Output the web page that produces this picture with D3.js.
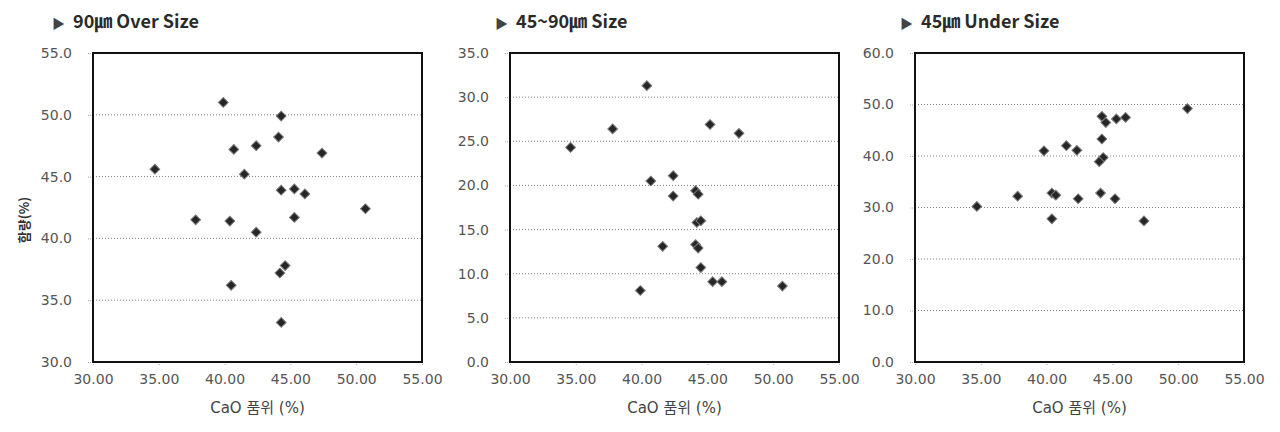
<html>
	<head>
		<meta content="text/html;charset=utf-8" http-equiv="Content-Type">
		<meta content="utf-8" http-equiv="encoding">
		<script src="https://d3js.org/d3.v7.min.js"></script>
		<style>
		body { margin: 0; background: #fff; }
		</style>
	</head>
	<body>
		<div>
			<svg id="chart"></svg>
		</div>
		<script>

	// CaO grade (%) and yield (%) for each size fraction
	var caoOver = [34.7, 39.9, 44.3, 44.1, 40.7, 42.4, 47.4, 41.5, 44.3, 45.3, 46.1, 50.7, 37.8, 40.4, 45.3, 42.4, 44.6, 44.2, 40.5, 44.3];
	var yieldOver = [45.6, 51.0, 49.9, 48.2, 47.2, 47.5, 46.9, 45.2, 43.9, 44.0, 43.6, 42.4, 41.5, 41.4, 41.7, 40.5, 37.8, 37.2, 36.2, 33.2];

	var caoMid = [40.4, 37.8, 45.2, 47.4, 34.6, 42.4, 40.7, 44.1, 44.3, 42.4, 44.2, 44.5, 41.6, 44.1, 44.3, 44.5, 45.4, 46.1, 50.7, 39.9];
	var yieldMid = [31.3, 26.4, 26.9, 25.9, 24.3, 21.1, 20.5, 19.4, 19.0, 18.8, 15.8, 16.0, 13.1, 13.3, 12.9, 10.7, 9.1, 9.1, 8.6, 8.1];

	var caoUnder = [50.7, 44.2, 44.5, 45.3, 46.0, 44.2, 41.5, 39.8, 42.3, 44.3, 44.0, 37.8, 40.4, 40.7, 42.4, 44.1, 45.2, 34.7, 40.4, 47.4];
	var yieldUnder = [49.2, 47.7, 46.5, 47.2, 47.5, 43.3, 42.0, 41.0, 41.1, 39.7, 38.9, 32.2, 32.8, 32.4, 31.7, 32.8, 31.7, 30.2, 27.8, 27.4];

	var titles = ["90㎛ Over Size", "45~90㎛ Size", "45㎛ Under Size"];
	var xTicks = [30, 35, 40, 45, 50, 55];
	var yTicksOver = [30, 35, 40, 45, 50, 55];
	var yTicksMid = [0, 5, 10, 15, 20, 25, 30, 35];
	var yTicksUnder = [0, 10, 20, 30, 40, 50, 60];
	var xLabel = "CaO 품위 (%)";
	var yLabel = "함량(%)";

	page();

	function page(){
		var svg = d3.select("#chart");
		svg.attr("width", 1280).attr("height", 432);
		svg.append("rect").attr("width", 1280).attr("height", 432).style("fill", "#fff");

		var panels = [
			{ left: 93, title: titles[0], titleX: 52, xs: caoOver, ys: yieldOver, yTicks: yTicksOver },
			{ left: 510, title: titles[1], titleX: 495, xs: caoMid, ys: yieldMid, yTicks: yTicksMid },
			{ left: 915, title: titles[2], titleX: 900, xs: caoUnder, ys: yieldUnder, yTicks: yTicksUnder }
		];
		panels.forEach(function(p, i){
			drawPanel(svg, p, i);
		});

		// y axis title, only on the first chart
		svg.append("text")
			.attr("transform", "translate(29,220) rotate(-90)")
			.attr("text-anchor", "middle")
			.style("font-family", "'Noto Sans CJK KR', 'DejaVu Sans', sans-serif")
			.style("font-size", "13px")
			.style("font-weight", "bold")
			.style("fill", "#333")
			.text(yLabel);
	}

	function drawPanel(svg, p, i){
		var top = 53, bottom = 362, width = 329;
		var x = d3.scaleLinear().domain([xTicks[0], xTicks[xTicks.length - 1]]).range([p.left, p.left + width]);
		var y = d3.scaleLinear().domain([p.yTicks[0], p.yTicks[p.yTicks.length - 1]]).range([bottom, top]);

		var t = svg.append("text")
			.attr("x", p.titleX)
			.attr("y", 28)
			.style("font-family", "'Noto Sans CJK KR', 'DejaVu Sans', sans-serif")
			.style("font-weight", "bold")
			.style("fill", "#2a2a2a");
		t.append("tspan")
			.style("font-size", "13px")
			.style("fill", "#444")
			.text("▶");
		t.append("tspan")
			.attr("dx", 8)
			.style("font-size", "18px")
			.text(p.title);

		// dotted gridlines
		svg.append("g")
			.selectAll("line")
			.data(p.yTicks.slice(1, -1))
			.enter()
			.append("line")
			.attr("x1", p.left)
			.attr("x2", p.left + width)
			.attr("y1", function(d){ return y(d); })
			.attr("y2", function(d){ return y(d); })
			.attr("stroke", "#808080")
			.attr("stroke-width", 1)
			.attr("stroke-dasharray", "1,2");

		var yAxis = svg.append("g")
			.attr("transform", "translate(" + p.left + ",0)")
			.call(d3.axisLeft(y).tickValues(p.yTicks).tickFormat(d3.format(".1f")).tickSize(5).tickPadding(16));
		var xAxis = svg.append("g")
			.attr("transform", "translate(0," + bottom + ")")
			.call(d3.axisBottom(x).tickValues(xTicks).tickFormat(d3.format(".2f")).tickSize(4).tickPadding(8));
		[yAxis, xAxis].forEach(function(a){
			a.select(".domain").remove();
			a.selectAll(".tick line").attr("stroke", "#aaa").attr("stroke-dasharray", "1,1");
			a.selectAll(".tick text")
				.style("font-family", "'DejaVu Sans', sans-serif")
				.style("font-size", "14px")
				.style("fill", "#555");
		});

		// plot area border
		svg.append("rect")
			.attr("x", p.left)
			.attr("y", top)
			.attr("width", width)
			.attr("height", bottom - top)
			.style("fill", "none")
			.style("stroke", "#111")
			.style("stroke-width", 2);

		svg.append("g")
			.selectAll("path")
			.data(p.xs)
			.enter()
			.append("path")
			.attr("d", d3.symbol().type(d3.symbolSquare).size(48))
			.attr("transform", function(d, j){ return "translate(" + x(d) + "," + y(p.ys[j]) + ") rotate(45)"; })
			.style("fill", "#262626")
			.style("stroke", "#7a7a7a")
			.style("stroke-width", 1);

		svg.append("text")
			.attr("x", p.left + width / 2)
			.attr("y", 413)
			.attr("text-anchor", "middle")
			.style("font-family", "'DejaVu Sans', 'Noto Sans CJK KR', sans-serif")
			.style("font-size", "15px")
			.style("fill", "#444")
			.text(xLabel);
	}

		</script>
	</body>
</html>
